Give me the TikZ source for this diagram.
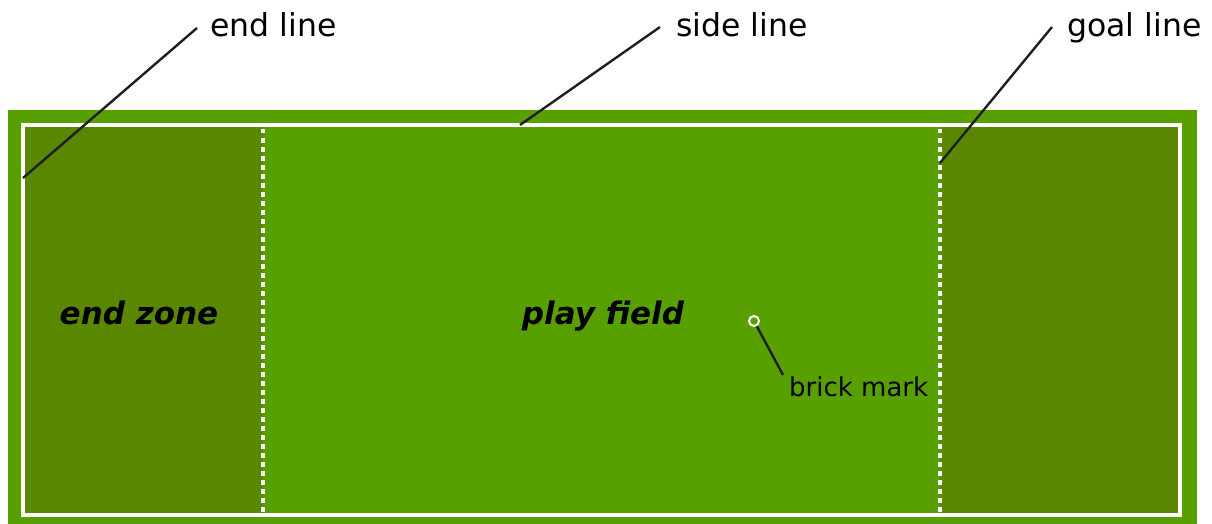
\documentclass[tikz,border=0pt]{standalone}
\usepackage{fontspec}
\setmainfont{DejaVu Sans}
\setsansfont{DejaVu Sans}
\definecolor{fieldgreen}{HTML}{589F00}
\definecolor{zonegreen}{HTML}{5A8700}
\tikzset{
  lbl/.style={font=\fontsize{31.5}{36}\selectfont, inner sep=0pt, text=black, anchor=base west},
  zonelbl/.style={font=\fontsize{31}{36}\selectfont\bfseries\itshape, inner sep=0pt, anchor=base},
  leader/.style={draw=black!88, line width=2.4pt},
  whiteline/.style={draw=white, line width=4pt},
  goalstyle/.style={draw=white, line width=3.5pt, dash pattern=on 4.5pt off 4.5pt}
}
\begin{document}
\begin{tikzpicture}[x=1pt,y=-1pt]
\useasboundingbox (0,0) rectangle (1212,524);
% field
\fill[fieldgreen] (8,110) rectangle (1197,524);
\fill[zonegreen] (23,125) rectangle (263,515);
\fill[zonegreen] (940,125) rectangle (1180,515);
\draw[whiteline] (23,125) rectangle (1180,515);
\draw[goalstyle] (263,129) -- (263,514);
\draw[goalstyle] (940,129) -- (940,514);
% zone labels
\node[zonelbl] (ez) at (139,324) {end zone};
\node[zonelbl] (pf) at (603,324) {play field};
% brick mark
\node[circle, draw=white, line width=2pt, fill=fieldgreen, minimum size=10pt, inner sep=0pt] (bm) at (754,321) {};
\node[font=\fontsize{26}{30}\selectfont, inner sep=0pt, anchor=base west] (bml) at (789,396) {brick mark};
\coordinate (bmp) at (783,375);
\draw[leader] (bm) -- (bmp);
% top labels
\coordinate (elp) at (23,178);
\coordinate (slp) at (520,125);
\coordinate (glp) at (940,163);
\node[lbl] (el) at (210,37) {end line};
\node[lbl] (sl) at (676,37) {side line};
\node[lbl] (gl) at (1067,37) {goal line};
\coordinate (els) at (197,28);
\coordinate (sls) at (660,27);
\coordinate (gls) at (1052,27);
\draw[leader] (els) -- (elp);
\draw[leader] (sls) -- (slp);
\draw[leader] (gls) -- (glp);
\end{tikzpicture}
\end{document}
